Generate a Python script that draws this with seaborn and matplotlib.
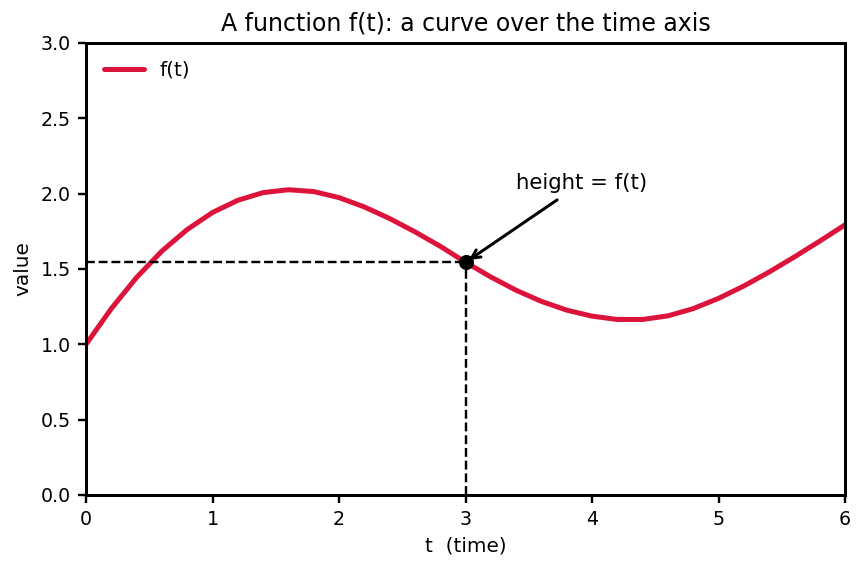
import matplotlib
matplotlib.use("Agg")
import matplotlib.pyplot as plt
import seaborn as sns
import pandas as pd

# Values
t_values = [0.0, 0.2, 0.4, 0.6, 0.8, 1.0, 1.2, 1.4, 1.6, 1.8, 2.0, 2.2, 2.4, 2.6,
            2.8, 3.0, 3.2, 3.4, 3.6, 3.8, 4.0, 4.2, 4.4, 4.6, 4.8, 5.0, 5.2, 5.4,
            5.6, 5.8, 6.0]
f_values = [1.000, 1.237, 1.444, 1.619, 1.762, 1.875, 1.956, 2.007, 2.026, 2.014,
            1.974, 1.912, 1.835, 1.747, 1.651, 1.545, 1.447, 1.359, 1.285, 1.227,
            1.187, 1.165, 1.165, 1.189, 1.237, 1.305, 1.387, 1.480, 1.580, 1.685,
            1.793]
t_mark = 3.0
f_mark = 1.544
x_ticks = [0, 1, 2, 3, 4, 5, 6]
y_ticks = [0.0, 0.5, 1.0, 1.5, 2.0, 2.5, 3.0]

sns.set_style("white")
plt.rcParams.update({
    "font.family": ["DejaVu Sans"],
    "text.color": "black",
    "axes.labelcolor": "black",
    "axes.linewidth": 1.5,
    "axes.edgecolor": "black",
    "xtick.color": "black",
    "ytick.color": "black",
    "xtick.bottom": True,
    "ytick.left": True,
    "xtick.major.size": 4,
    "ytick.major.size": 4,
    "xtick.major.width": 1.2,
    "ytick.major.width": 1.2,
    "xtick.labelsize": 9.5,
    "ytick.labelsize": 9.5,
    "axes.labelsize": 10,
    "axes.titlesize": 11.8,
})

df = pd.DataFrame({"t": t_values, "f": f_values})

fig = plt.figure(figsize=(865 / 144, 569 / 144), dpi=144)
ax = fig.add_axes([86 / 865, 1 - 495 / 569, (845 - 86) / 865, (495 - 43) / 569])

sns.lineplot(data=df, x="t", y="f", ax=ax, color="#DC143C", linewidth=2.5,
             label="f(t)")

ax.plot([0, t_mark], [f_mark, f_mark], linestyle="--", color="black", linewidth=1.2)
ax.plot([t_mark, t_mark], [0, f_mark], linestyle="--", color="black", linewidth=1.2)
ax.plot([t_mark], [f_mark], marker="o", color="black", markersize=6.5, linestyle="none")

ax.annotate("height = f(t)", xy=(t_mark, f_mark), xytext=(3.4, 2.07),
            ha="left", va="center", fontsize=10.6, color="black",
            arrowprops=dict(arrowstyle="->", color="black", lw=1.5))

ax.set_xlim(0, 6)
ax.set_ylim(0, 3)
ax.set_xticks(x_ticks)
ax.set_yticks(y_ticks)
ax.set_yticklabels([f"{v:.1f}" for v in y_ticks])
ax.set_xlabel("t  (time)")
ax.set_ylabel("value")
ax.set_title("A function f(t): a curve over the time axis", color="black")
ax.legend(loc="upper left", frameon=False, fontsize=10)

fig.savefig("out.png", dpi=144)
